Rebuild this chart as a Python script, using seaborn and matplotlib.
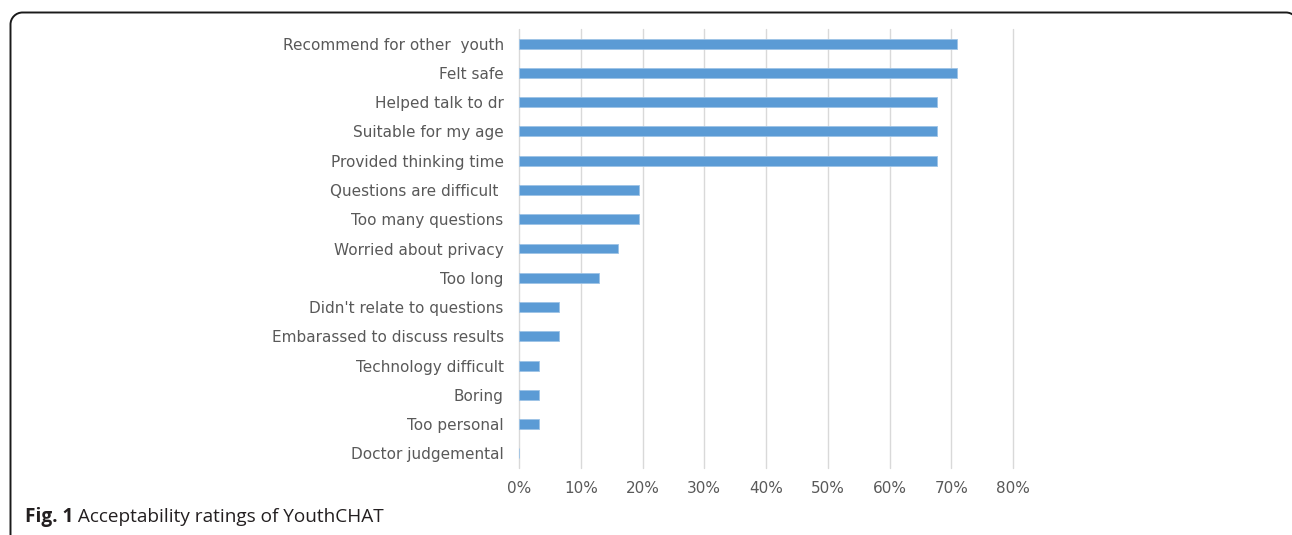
import matplotlib
matplotlib.use("Agg")
import matplotlib.pyplot as plt
import seaborn as sns
import pandas as pd
import numpy as np
from matplotlib.patches import PathPatch
from matplotlib.path import Path
from matplotlib.transforms import IdentityTransform
from matplotlib.ticker import PercentFormatter

categories = [
    "Recommend for other  youth",
    "Felt safe",
    "Helped talk to dr",
    "Suitable for my age",
    "Provided thinking time",
    "Questions are difficult ",
    "Too many questions",
    "Worried about privacy",
    "Too long",
    "Didn't relate to questions",
    "Embarassed to discuss results",
    "Technology difficult",
    "Boring",
    "Too personal",
    "Doctor judgemental",
]
values = [0.710, 0.710, 0.677, 0.677, 0.677, 0.194, 0.194, 0.161, 0.129,
          0.065, 0.065, 0.032, 0.032, 0.032, 0.0]
xticks = [0, 0.1, 0.2, 0.3, 0.4, 0.5, 0.6, 0.7, 0.8]
caption_bold = "Fig. 1"
caption_text = " Acceptability ratings of YouthCHAT"

df = pd.DataFrame({"category": categories, "value": values})

sns.set_theme(style="white")
plt.rcParams["font.family"] = ["DejaVu Sans"]

W, H = 1292, 535
fig = plt.figure(figsize=(W / 100, H / 100), dpi=100)
ax = fig.add_axes([519 / W, 1 - 468 / H, (1013 - 519) / W, (468 - 29) / H])

bar_color = "#5B9BD5"
sns.barplot(data=df, x="value", y="category", orient="h", color=bar_color,
            width=0.34, edgecolor="#9DC3E6", linewidth=0.6, ax=ax, zorder=3,
            saturation=1)

ax.set_xlim(0, 0.8)
ax.set_xticks(xticks)
ax.xaxis.set_major_formatter(PercentFormatter(1.0, decimals=0))
ax.grid(axis="x", color="#D9D9D9", linewidth=1.0, zorder=0)
ax.grid(axis="y", visible=False)
for gl in ax.get_xgridlines():
    gl.set_clip_on(False)
for s in ax.spines.values():
    s.set_visible(False)
ax.set_xlabel("")
ax.set_ylabel("")
ax.tick_params(axis="y", length=0, pad=11, labelsize=11, labelcolor="#595959")
ax.tick_params(axis="x", length=0, pad=9.5, labelsize=11, labelcolor="#595959")

# Rounded frame around the figure (pixel coordinates, open at bottom)
left, right, top, r = 10.5, 1298.0, H - 12.5, 12.0
k = 0.5523
verts = [
    (left, -5), (left, top - r),
    (left, top - r + k * r), (left + r - k * r, top), (left + r, top),
    (right - r, top),
    (right - r + k * r, top), (right, top - r + k * r), (right, top - r),
    (right, -5),
]
codes = [Path.MOVETO, Path.LINETO,
         Path.CURVE4, Path.CURVE4, Path.CURVE4,
         Path.LINETO,
         Path.CURVE4, Path.CURVE4, Path.CURVE4,
         Path.LINETO]
frame = PathPatch(Path(verts, codes), transform=IdentityTransform(),
                  fill=False, edgecolor="#1a1a1a", linewidth=1.4)
frame.set_clip_on(False)
fig.add_artist(frame)

# Caption
t1 = fig.text(25 / W, 1 - 517 / H, caption_bold, fontsize=13.7,
              fontweight="bold", family=["Open Sans", "DejaVu Sans"],
              color="#231F20", va="center", ha="left")
fig.canvas.draw()
bb = t1.get_window_extent(renderer=fig.canvas.get_renderer())
fig.text(bb.x1 / W, 1 - 517 / H, caption_text, fontsize=13.7,
         family=["Open Sans", "DejaVu Sans"], color="#231F20",
         va="center", ha="left")

fig.savefig("out.png", dpi=100)
